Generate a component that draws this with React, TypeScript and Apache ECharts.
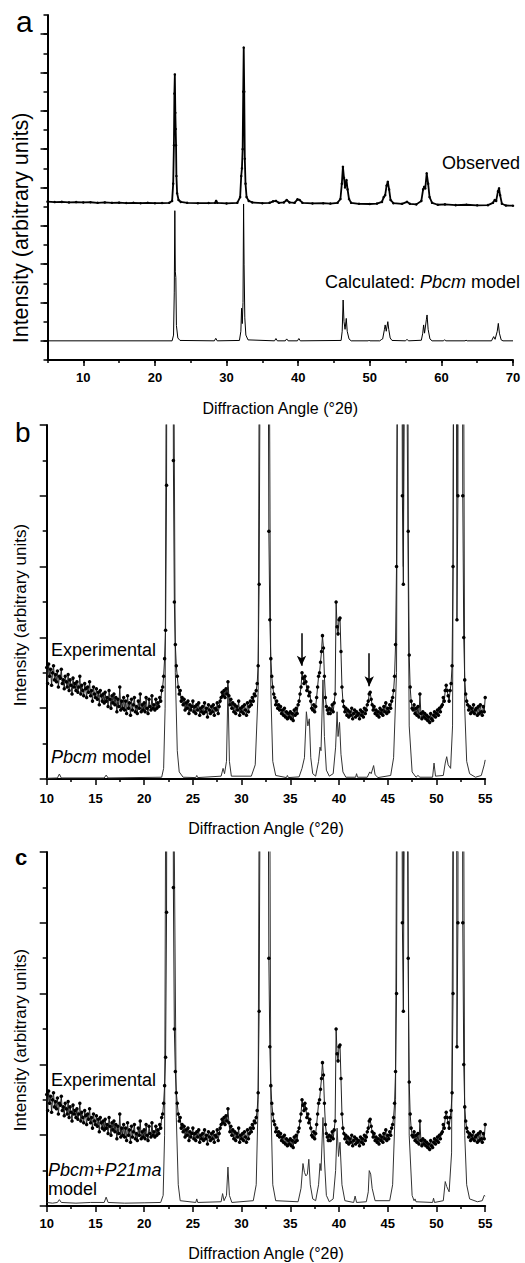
import React, { useEffect, useRef } from "react";
import * as echarts from "echarts";

// ---------- Panel a : observed vs calculated (Pbcm) ----------
const observedA: [number, number][] = [
  [5, 8.26], [6, 8.24], [7, 8.25], [8, 8.22], [9, 8.24], [10, 8.22], [11, 8.23], [12, 8.2], [13, 8.22], [14, 8.2],
  [15, 8.21], [16, 8.19], [17, 8.2], [18, 8.18], [19, 8.2], [20, 8.18], [21, 8.19], [22, 8.2], [22.4, 8.3],
  [22.55, 9.2], [22.65, 11.2], [22.72, 13.9], [22.78, 14.9], [22.85, 12.9], [22.9, 12.05], [22.95, 11.2],
  [23.0, 9.6], [23.1, 8.7], [23.3, 8.35], [23.6, 8.25], [24.5, 8.2], [26, 8.18], [27.5, 8.19], [28.4, 8.2],
  [28.55, 8.3], [28.7, 8.2], [30, 8.17], [31.5, 8.2], [31.9, 8.5], [32.05, 9.6], [32.15, 10.0], [32.25, 11],
  [32.33, 14], [32.4, 16.3], [32.47, 14], [32.55, 10.5], [32.65, 9.2], [32.8, 8.5], [33.1, 8.3], [33.6, 8.22],
  [35, 8.18], [36, 8.2], [36.5, 8.28], [36.9, 8.3], [37.3, 8.2], [38, 8.22], [38.4, 8.35], [38.8, 8.22],
  [39.5, 8.2], [39.9, 8.38], [40.2, 8.35], [40.6, 8.2], [42, 8.17], [43.5, 8.18], [44.5, 8.16], [45.5, 8.2],
  [45.9, 8.4], [46.1, 9.2], [46.25, 10.08], [46.4, 9.5], [46.55, 9.0], [46.75, 9.39], [46.9, 8.9], [47.1, 8.4],
  [47.4, 8.2], [48.5, 8.15], [50, 8.14], [51, 8.16], [51.7, 8.25], [51.95, 8.5], [52.15, 8.6], [52.35, 9.1],
  [52.52, 9.3], [52.7, 8.9], [52.9, 8.35], [53.3, 8.18], [54.5, 8.15], [55.2, 8.25], [55.6, 8.15], [56.5, 8.12],
  [57.2, 8.3], [57.45, 8.9], [57.6, 9.04], [57.75, 8.95], [57.95, 9.74], [58.15, 9.2], [58.35, 8.5], [58.7, 8.2],
  [59.5, 8.1], [60.5, 8.12], [62, 8.08], [63.5, 8.1], [65, 8.07], [66.5, 8.08], [67.2, 8.2], [67.45, 8.35],
  [67.65, 8.3], [67.9, 8.8], [68.05, 8.96], [68.2, 8.6], [68.45, 8.15], [69, 8.06], [70, 8.05],
];

const calculatedA: [number, number][] = [
  [5, 1], [22.4, 1.0], [22.6, 1.3], [22.7, 3.5], [22.78, 7.79], [22.85, 4.6], [22.92, 4.3], [23.0, 1.8],
  [23.2, 1.15], [23.5, 1.02], [28.3, 1.0], [28.5, 1.13], [28.7, 1.0], [31.8, 1.02], [32.0, 1.5], [32.1, 2.7],
  [32.2, 1.9], [32.3, 3], [32.38, 8.14], [32.45, 5], [32.55, 2.2], [32.7, 1.3], [33, 1.05], [36.7, 1.0],
  [36.9, 1.12], [37.1, 1.0], [38.2, 1.0], [38.4, 1.1], [38.6, 1.0], [39.9, 1.0], [40.1, 1.12], [40.3, 1.0],
  [46.0, 1.02], [46.15, 1.5], [46.28, 3.13], [46.4, 2.0], [46.55, 1.6], [46.72, 2.17], [46.85, 1.5], [47.1, 1.1],
  [47.4, 1.0], [49.8, 1.0], [49.9, 1.04], [50, 1.0], [51.4, 1.0], [51.6, 1.06], [51.8, 1.1], [52.05, 1.6],
  [52.15, 1.83], [52.3, 1.5], [52.52, 2.0], [52.65, 1.6], [52.85, 1.15], [53.1, 1.02], [55.0, 1.0], [55.2, 1.08],
  [55.4, 1.0], [57.2, 1.03], [57.4, 1.4], [57.52, 1.83], [57.65, 1.4], [57.9, 2.1], [58.0, 2.35], [58.15, 1.6],
  [58.4, 1.1], [58.7, 1.0], [60.3, 1.0], [60.45, 1.06], [60.6, 1.0], [63.3, 1.0], [63.45, 1.03], [63.6, 1.0],
  [67.0, 1.0], [67.3, 1.22], [67.5, 1.08], [67.8, 1.5], [67.95, 1.91], [68.1, 1.4], [68.35, 1.05], [68.6, 1.0],
  [70, 1.0],
];

// ---------- Panels b & c : experimental pattern (same measurement), 0.1° steps from 10° ----------
const expStart = 10;
const expStep = 0.1;
const experimentalY: number[] = [
  3.15, 2.7, 3.25, 2.9, 3.1, 2.65, 3.0, 3.2, 2.8, 2.95,
  2.75, 3.05, 2.6, 2.9, 2.85, 3.1, 2.7, 2.8, 2.55, 2.9,
  2.75, 2.6, 2.95, 2.5, 2.8, 2.65, 2.4, 2.85, 2.6, 2.7,
  2.5, 2.75, 2.45, 2.6, 2.9, 2.4, 2.65, 2.5, 2.35, 2.7,
  2.55, 2.3, 2.6, 2.45, 2.75, 2.35, 2.5, 2.2, 2.6, 2.4,
  2.3, 2.55, 2.25, 2.45, 2.1, 2.5, 2.35, 2.2, 2.4, 2.15,
  2.45, 2.2, 2.3, 2.05, 2.5, 2.25, 2.0, 2.35, 2.15, 2.4,
  2.1, 2.3, 1.9, 2.25, 2.05, 2.6, 1.95, 2.2, 2.0, 2.3,
  1.95, 2.2, 1.85, 2.35, 2.0, 2.15, 1.8, 2.25, 1.95, 2.1,
  2.3, 1.9, 2.05, 1.85, 2.2, 2.0, 2.4, 1.9, 2.1, 1.95,
  2.15, 1.9, 2.3, 2.0, 1.85, 2.25, 2.05, 1.95, 2.35, 2.0,
  2.1, 1.95, 2.25, 2.0, 2.15, 2.05, 2.3, 2.2, 2.5, 2.6,
  2.9, 3.4, 4.2, 8.3, 25, 60, 70, 60, 45, 30,
  9, 5, 3.8, 3.2, 2.9, 2.6, 2.4, 2.5, 2.2, 2.3,
  2.1, 2.25, 1.95, 2.15, 2.0, 2.2, 1.85, 2.1, 1.95, 2.05,
  2.2, 1.9, 2.05, 1.85, 2.1, 1.95, 2.15, 1.8, 2.0, 1.9,
  2.05, 1.85, 2.15, 1.9, 2.0, 1.75, 2.1, 1.95, 1.85, 2.05,
  1.9, 2.1, 1.8, 2.0, 1.95, 2.15, 1.85, 2.05, 2.2, 2.3,
  2.45, 2.35, 2.5, 2.3, 2.55, 2.4, 2.75, 2.35, 2.1, 2.25,
  2.0, 2.15, 1.9, 2.1, 1.85, 2.05, 1.95, 2.2, 1.8, 2.0,
  1.9, 2.05, 1.85, 2.1, 1.95, 1.8, 2.15, 1.9, 2.05, 2.2,
  2.1, 2.3, 2.2, 2.4, 2.35, 2.5, 2.7, 3.2, 5.5, 12,
  40, 70, 80, 70, 60, 45, 30, 15, 7, 4.5,
  3.4, 2.9, 2.6, 2.4, 2.3, 2.1, 2.2, 2.0, 2.1, 1.95,
  2.05, 1.85, 1.95, 1.8, 2.0, 1.75, 1.9, 1.7, 1.85, 1.75,
  1.9, 1.7, 1.85, 1.65, 1.95, 1.8, 2.0, 1.85, 2.1, 2.2,
  2.4, 2.6, 3.0, 2.85, 2.7, 2.9, 2.75, 2.5, 2.6, 2.35,
  2.45, 2.2, 2.0, 1.95, 2.1, 1.9, 2.05, 2.3, 2.6, 2.9,
  3.0, 3.3, 3.6, 4.05, 3.7, 2.9, 2.3, 2.05, 1.95, 1.85,
  2.0, 1.85, 1.95, 2.1, 1.9, 2.15, 2.4, 5.0, 4.3, 4.1,
  4.5, 4.55, 3.6, 2.6, 2.2, 2.05, 1.9, 2.0, 1.8, 1.95,
  1.75, 1.9, 1.8, 2.0, 1.7, 1.85, 1.95, 1.75, 1.9, 1.8,
  1.85, 1.7, 1.95, 1.8, 1.9, 1.75, 2.0, 1.85, 1.95, 2.1,
  2.2, 2.4, 2.45, 2.25, 2.1, 1.95, 2.05, 1.85, 1.95, 1.8,
  1.9, 1.75, 2.0, 1.85, 1.95, 1.8, 2.05, 1.9, 2.15, 1.85,
  2.0, 1.9, 2.1, 2.0, 2.2, 2.3, 2.5, 2.9, 3.8, 6,
  14, 40, 70, 60, 20, 8, 5.5, 12, 50, 70,
  25, 7, 3.5, 2.6, 2.2, 2.0, 1.95, 2.1, 1.85, 2.0,
  1.8, 2.05, 1.75, 2.4, 1.85, 1.7, 1.9, 1.75, 1.85, 1.7,
  1.8, 1.65, 1.75, 1.6, 1.85, 1.7, 1.65, 1.8, 1.9, 1.75,
  1.85, 1.95, 1.8, 2.0, 1.9, 2.05, 2.1, 2.3, 2.2, 2.5,
  2.65, 2.5, 2.35, 2.2, 2.5, 2.7, 3.2, 6, 20, 60,
  30, 4.5, 8, 40, 70, 60, 25, 8, 4, 2.8,
  2.4, 2.2, 2.1, 1.95, 2.05, 1.85, 2.0, 1.9, 2.1, 1.85,
  1.95, 2.0, 1.8, 2.05, 1.85, 2.1, 1.9, 1.8, 2.05, 1.9,
  2.3,
];

// ---------- Panel b : Pbcm model ----------
const modelB: [number, number][] = [
  [10, 0.02], [11.1, 0.03], [11.3, 0.14], [11.5, 0.03], [15.9, 0.03], [16.1, 0.11], [16.3, 0.03], [21.8, 0.05],
  [22.0, 0.3], [22.15, 2], [22.3, 15], [22.45, 60], [22.6, 80], [22.75, 60], [22.9, 45], [23.05, 12], [23.2, 3],
  [23.4, 0.8], [23.6, 0.2], [24, 0.05], [25.3, 0.04], [25.4, 0.1], [25.5, 0.04], [27.9, 0.08], [28.1, 0.3],
  [28.25, 0.15], [28.45, 0.5], [28.6, 2.6], [28.75, 0.5], [28.95, 0.08], [31.0, 0.08], [31.4, 0.4], [31.7, 2.5],
  [31.9, 20], [32.1, 80], [32.3, 80], [32.6, 60], [32.8, 15], [33.0, 2.5], [33.2, 0.5], [33.5, 0.1], [34.6, 0.04],
  [34.7, 0.1], [34.8, 0.04], [35.9, 0.06], [36.2, 0.3], [36.45, 0.6], [36.65, 1.9], [36.8, 1.5], [36.95, 1.7],
  [37.1, 0.6], [37.3, 0.15], [37.6, 0.08], [37.9, 0.5], [38.05, 0.9], [38.15, 0.8], [38.35, 2.8], [38.5, 1.2],
  [38.7, 0.25], [39.0, 0.08], [39.4, 0.15], [39.65, 0.9], [39.8, 1.9], [39.9, 1.2], [40.05, 1.6], [40.2, 0.7],
  [40.4, 0.2], [40.7, 0.05], [41.7, 0.05], [41.8, 0.15], [41.9, 0.05], [42.9, 0.05], [43.15, 0.2], [43.3, 0.15],
  [43.55, 0.38], [43.7, 0.12], [44.0, 0.04], [45.3, 0.1], [45.6, 0.6], [45.9, 3], [46.1, 20], [46.3, 60],
  [46.5, 15], [46.6, 6], [46.7, 15], [46.85, 50], [47.0, 10], [47.2, 1.5], [47.5, 0.2], [47.9, 0.05], [48.1, 0.1],
  [48.3, 0.05], [49.6, 0.05], [49.75, 0.45], [49.9, 0.08], [50.7, 0.1], [50.9, 0.45], [51.05, 0.63], [51.2, 0.4],
  [51.45, 0.3], [51.65, 1.5], [51.8, 15], [51.95, 60], [52.1, 8], [52.3, 20], [52.5, 60], [52.7, 20], [52.9, 2],
  [53.1, 0.5], [53.4, 0.15], [54.0, 0.05], [54.6, 0.1], [54.9, 0.4], [55, 0.54],
];

// ---------- Panel c : Pbcm + P21ma model ----------
const modelC: [number, number][] = [
  [10, 0.1], [10.6, 0.08], [11.1, 0.1], [11.3, 0.18], [11.5, 0.1], [13, 0.08], [14.5, 0.1], [15.9, 0.1],
  [16.1, 0.25], [16.3, 0.1], [18, 0.08], [20, 0.09], [21.7, 0.1], [21.95, 0.3], [22.1, 2], [22.25, 15],
  [22.45, 60], [22.6, 80], [22.8, 60], [22.95, 40], [23.1, 10], [23.3, 2.5], [23.5, 0.6], [23.7, 0.15],
  [25.3, 0.1], [25.4, 0.2], [25.5, 0.1], [27.9, 0.12], [28.05, 0.35], [28.2, 0.15], [28.45, 0.3], [28.6, 1.1],
  [28.75, 0.3], [29, 0.1], [31.2, 0.15], [31.5, 0.6], [31.7, 3], [31.9, 20], [32.1, 80], [32.4, 80], [32.6, 60],
  [32.8, 20], [33.0, 3], [33.2, 0.6], [33.5, 0.15], [35.8, 0.12], [36.1, 0.5], [36.3, 1.2], [36.45, 0.95],
  [36.6, 0.85], [36.75, 0.9], [36.9, 1.32], [37.05, 0.6], [37.3, 0.2], [37.6, 0.15], [37.9, 0.6], [38.05, 1.2],
  [38.15, 1.0], [38.35, 2.5], [38.5, 1.3], [38.7, 0.3], [39.0, 0.12], [39.4, 0.2], [39.65, 1.0], [39.8, 2.2],
  [39.95, 1.4], [40.1, 1.8], [40.3, 0.6], [40.6, 0.15], [41.5, 0.1], [41.65, 0.28], [41.8, 0.1], [42.8, 0.12],
  [43.0, 0.4], [43.1, 1.0], [43.25, 0.9], [43.4, 0.5], [43.7, 0.15], [45.2, 0.15], [45.5, 0.6], [45.8, 3],
  [46.0, 20], [46.2, 60], [46.5, 15], [46.6, 8], [46.7, 15], [46.85, 60], [47.0, 12], [47.2, 2], [47.5, 0.3],
  [47.7, 0.15], [47.8, 0.2], [47.9, 0.12], [49.6, 0.1], [49.7, 0.22], [49.8, 0.1], [50.7, 0.15], [50.9, 0.69],
  [51.05, 0.55], [51.3, 0.4], [51.55, 1.5], [51.75, 15], [51.95, 60], [52.1, 10], [52.3, 20], [52.5, 60],
  [52.7, 20], [52.9, 2], [53.1, 0.6], [53.4, 0.2], [54.2, 0.12], [54.7, 0.15], [54.9, 0.3], [55, 0.28],
];

// arrows in panel b (x, top, tip)
const arrowX = [36.15, 43.1];
const arrowTop = [4.12, 3.55];
const arrowTip = [3.2, 2.62];

const ticksA = [10, 20, 30, 40, 50, 60, 70];
const longTicksA = [1, 3, 5, 7, 9, 11, 13, 15, 17];

const FONT = "Liberation Sans, Arial, Helvetica, sans-serif";
const XTITLE = "Diffraction Angle (°2θ)";
const YTITLE = "Intensity (arbitrary units)";

export default function App() {
  const ref = useRef<HTMLDivElement>(null);

  useEffect(() => {
    if (!ref.current) return;
    const chart = echarts.init(ref.current, undefined, { renderer: "svg" });

    const experimental: [number, number][] = experimentalY.map((v, i) => [
      +(expStart + i * expStep).toFixed(2),
      v,
    ]);

    const axisLine = { show: true, lineStyle: { color: "#000", width: 2 } };
    const tickStyle = { color: "#000", width: 1.5 };
    const labelStyle = {
      color: "#000",
      fontSize: 13,
      fontWeight: "bold" as const,
      fontFamily: FONT,
    };
    const nameStyle = { color: "#000", fontSize: 16, fontFamily: FONT };

    const mainX = (gridIndex: number, min: number, max: number, margin: number, gap: number) => ({
      type: "value",
      gridIndex,
      min,
      max,
      interval: 5,
      position: "bottom",
      axisLine,
      axisTick: { show: true, inside: false, length: 6, lineStyle: tickStyle },
      minorTick: { show: true, splitNumber: 2, length: 3, lineStyle: tickStyle },
      axisLabel: { ...labelStyle, margin },
      splitLine: { show: false },
      minorSplitLine: { show: false },
      name: XTITLE,
      nameLocation: "middle",
      nameGap: gap,
      nameTextStyle: nameStyle,
    });

    const mainY = (gridIndex: number, shift: number) => ({
      type: "value",
      gridIndex,
      min: 0,
      max: 10,
      interval: 2,
      position: "left",
      axisLine,
      axisTick: { show: true, inside: false, length: 7, lineStyle: tickStyle },
      minorTick: { show: true, splitNumber: 2, length: 4, lineStyle: tickStyle },
      axisLabel: { show: false },
      splitLine: { show: false },
      minorSplitLine: { show: false },
      name: YTITLE,
      nameLocation: "middle",
      nameGap: 18,
      nameRotate: 90,
      nameTextStyle: { color: "#000", fontSize: 17, fontFamily: FONT, padding: [0, shift, 0, 0] },
    });

    const option: any = {
      animation: false,
      backgroundColor: "#fff",
      grid: [
        { left: 47.5, top: 15, width: 465.5, height: 345 },
        { left: 46.7, top: 425, width: 438.5, height: 354 },
        { left: 46.7, top: 852, width: 438.5, height: 354 },
      ],
      xAxis: [
        {
          type: "value",
          gridIndex: 0,
          min: 5,
          max: 70,
          interval: 5,
          position: "bottom",
          axisLine,
          axisTick: { show: true, inside: false, length: 3, lineStyle: tickStyle },
          axisLabel: { ...labelStyle, margin: 11, customValues: ticksA },
          splitLine: { show: false },
          name: XTITLE,
          nameLocation: "middle",
          nameGap: 40,
          nameTextStyle: nameStyle,
        },
        {
          type: "value",
          gridIndex: 0,
          min: 5,
          max: 70,
          interval: 5,
          position: "bottom",
          axisLine: { show: false },
          axisTick: { show: true, inside: false, length: 6, lineStyle: tickStyle, customValues: ticksA },
          axisLabel: { show: false },
          splitLine: { show: false },
        },
        mainX(1, 10, 55, 13, 41),
        mainX(2, 10, 55, 11, 39),
      ],
      yAxis: [
        {
          type: "value",
          gridIndex: 0,
          min: 0,
          max: 18,
          interval: 1,
          position: "left",
          axisLine,
          axisTick: { show: true, inside: false, length: 4, lineStyle: tickStyle },
          axisLabel: { show: false },
          splitLine: { show: false },
          name: YTITLE,
          nameLocation: "middle",
          nameGap: 16,
          nameRotate: 90,
          nameTextStyle: { color: "#000", fontSize: 21.5, fontFamily: FONT, padding: [0, 81, 0, 0] },
        },
        {
          type: "value",
          gridIndex: 0,
          min: 0,
          max: 18,
          interval: 1,
          position: "left",
          axisLine: { show: false },
          axisTick: { show: true, inside: false, length: 7, lineStyle: tickStyle, customValues: longTicksA },
          axisLabel: { show: false },
          splitLine: { show: false },
        },
        mainY(1, 26),
        mainY(2, 22),
      ],
      series: [
        {
          type: "line",
          name: "Calculated",
          xAxisIndex: 0,
          yAxisIndex: 0,
          data: calculatedA,
          showSymbol: false,
          lineStyle: { color: "#000", width: 1 },
          itemStyle: { color: "#000" },
          clip: true,
        },
        {
          type: "line",
          name: "Observed",
          xAxisIndex: 0,
          yAxisIndex: 0,
          data: observedA,
          symbol: "circle",
          symbolSize: 2.5,
          showAllSymbol: true,
          lineStyle: { color: "#000", width: 1.8 },
          itemStyle: { color: "#000" },
          clip: true,
        },
        {
          type: "line",
          name: "Pbcm model",
          xAxisIndex: 2,
          yAxisIndex: 2,
          data: modelB,
          showSymbol: false,
          lineStyle: { color: "#333", width: 1 },
          clip: true,
        },
        {
          type: "line",
          name: "Experimental b",
          xAxisIndex: 2,
          yAxisIndex: 2,
          data: experimental,
          symbol: "circle",
          symbolSize: 3.5,
          showAllSymbol: true,
          lineStyle: { color: "#222", width: 1 },
          itemStyle: { color: "#000" },
          clip: true,
          markLine: {
            silent: true,
            symbol: ["none", "arrow"],
            symbolSize: [7, 10],
            label: { show: false },
            lineStyle: { color: "#000", width: 1.5, type: "solid" },
            data: arrowX.map((x, i) => [
              { coord: [x, arrowTop[i]] },
              { coord: [x, arrowTip[i]] },
            ]),
          },
        },
        {
          type: "line",
          name: "Pbcm+P21ma model",
          xAxisIndex: 3,
          yAxisIndex: 3,
          data: modelC,
          showSymbol: false,
          lineStyle: { color: "#333", width: 1 },
          clip: true,
        },
        {
          type: "line",
          name: "Experimental c",
          xAxisIndex: 3,
          yAxisIndex: 3,
          data: experimental,
          symbol: "circle",
          symbolSize: 3.5,
          showAllSymbol: true,
          lineStyle: { color: "#222", width: 1 },
          itemStyle: { color: "#000" },
          clip: true,
        },
      ],
      graphic: [
        { type: "text", left: 16, top: 6, style: { text: "a", fontSize: 30, fontFamily: FONT, fill: "#000" } },
        { type: "text", left: 15, top: 418, style: { text: "b", fontSize: 28, fontFamily: FONT, fill: "#000" } },
        { type: "text", left: 15, top: 846, style: { text: "c", fontSize: 22, fontWeight: "bold", fontFamily: FONT, fill: "#000" } },
        {
          type: "text", x: 520, y: 163,
          style: { text: "Observed", fontSize: 18, fontFamily: FONT, fill: "#000", align: "right", verticalAlign: "middle" },
        },
        {
          type: "text", x: 520, y: 282,
          style: {
            text: "{n|Calculated: }{i|Pbcm}{n| model}",
            align: "right",
            verticalAlign: "middle",
            rich: {
              n: { fontSize: 18, fontFamily: FONT, fill: "#000" },
              i: { fontSize: 18, fontFamily: FONT, fontStyle: "italic", fill: "#000" },
            },
          },
        },
        {
          type: "text", x: 51, y: 650,
          style: { text: "Experimental", fontSize: 18, fontFamily: FONT, fill: "#000", align: "left", verticalAlign: "middle" },
        },
        {
          type: "text", x: 51, y: 757,
          style: {
            text: "{i|Pbcm}{n| model}",
            align: "left",
            verticalAlign: "middle",
            rich: {
              n: { fontSize: 18, fontFamily: FONT, fill: "#000" },
              i: { fontSize: 18, fontFamily: FONT, fontStyle: "italic", fill: "#000" },
            },
          },
        },
        {
          type: "text", x: 51, y: 1080,
          style: { text: "Experimental", fontSize: 18, fontFamily: FONT, fill: "#000", align: "left", verticalAlign: "middle" },
        },
        {
          type: "text", x: 48, y: 1170,
          style: { text: "Pbcm+P21ma", fontSize: 18, fontStyle: "italic", fontFamily: FONT, fill: "#000", align: "left", verticalAlign: "middle" },
        },
        {
          type: "text", x: 48, y: 1189,
          style: { text: "model", fontSize: 18, fontFamily: FONT, fill: "#000", align: "left", verticalAlign: "middle" },
        },
      ],
    };

    chart.setOption(option);
    return () => chart.dispose();
  }, []);

  return (
    <div
      ref={ref}
      style={{ position: "absolute", left: 0, top: 0, width: 525, height: 1263, background: "#fff" }}
    />
  );
}
